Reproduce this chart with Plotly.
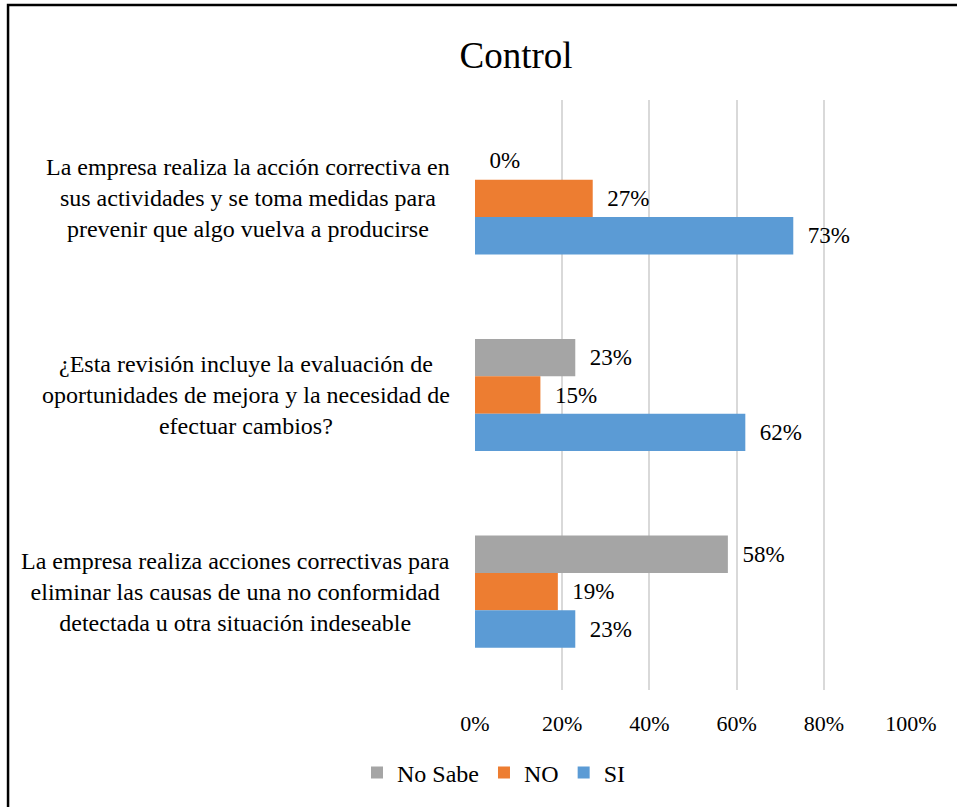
import plotly.graph_objects as go

# Survey items, listed top to bottom
items = [
    "La empresa realiza la acción correctiva en<br>sus actividades y se toma medidas para<br>prevenir que algo vuelva a producirse",
    "¿Esta revisión incluye la evaluación de<br>oportunidades de mejora y la necesidad de<br>efectuar cambios?",
    "La empresa realiza acciones correctivas para<br>eliminar las causas de una no conformidad<br>detectada u otra situación indeseable",
]

# Share of answers (%) per item
no_sabe = [0, 23, 58]
no = [27, 15, 19]
si = [73, 62, 23]

series = [
    ("No Sabe", no_sabe, "#A5A5A5"),
    ("NO", no, "#ED7D31"),
    ("SI", si, "#5B9BD5"),
]

FONT = "Liberation Serif, Times New Roman, serif"

fig = go.Figure()
for name, vals, color in series:
    fig.add_trace(go.Bar(
        name=name,
        y=items,
        x=vals,
        orientation="h",
        marker=dict(color=color, line=dict(width=0)),
        text=[f"\u00a0\u00a0{v}%" for v in vals],
        texttemplate="%{text}",
        textposition="outside",
        constraintext="none",
        cliponaxis=False,
        textfont=dict(family=FONT, size=23, color="#000000"),
        hoverinfo="skip",
    ))

# Category labels: right-aligned block, lines centred within it
annotations = [
    dict(
        text=item, xref="paper", yref="y", x=-0.053, y=item,
        xanchor="right", yanchor="middle", align="center", showarrow=False,
        font=dict(family=FONT, size=24, color="#000000"),
    )
    for item in items
]

# Frame around the chart
shapes = [
    dict(
        type="rect", xref="paper", yref="paper",
        x0=-1.071, x1=1.3, y0=-0.4, y1=1.161,
        line=dict(color="#000000", width=2.5), fillcolor="rgba(0,0,0,0)",
        layer="below",
    )
]

fig.update_layout(
    width=957,
    height=807,
    margin=dict(l=475, r=46, t=100, b=117),
    paper_bgcolor="#FFFFFF",
    plot_bgcolor="#FFFFFF",
    barmode="group",
    bargap=0.43,
    bargroupgap=0,
    font=dict(family=FONT, color="#000000"),
    title=dict(
        text="Control", x=516 / 957, xanchor="center", y=1 - 55 / 807, yanchor="middle",
        font=dict(family=FONT, size=37, color="#000000"),
    ),
    xaxis=dict(
        range=[0, 100], dtick=20, ticksuffix="%",
        showgrid=True, gridcolor="#D9D9D9", gridwidth=1.5,
        zeroline=False, showline=False,
        ticks="", ticklabelstandoff=18,
        tickfont=dict(family=FONT, size=22, color="#000000"),
        fixedrange=True,
    ),
    yaxis=dict(
        autorange="reversed", showticklabels=False, showgrid=False,
        zeroline=False, showline=False, ticks="", fixedrange=True,
    ),
    legend=dict(
        orientation="h", xref="container", yref="container",
        x=494 / 957, xanchor="center", y=1 - 773 / 807, yanchor="middle",
        font=dict(family=FONT, size=24, color="#000000"),
        itemwidth=30, traceorder="normal",
    ),
    annotations=annotations,
    shapes=shapes,
    showlegend=True,
)

fig.write_html("out.html")
